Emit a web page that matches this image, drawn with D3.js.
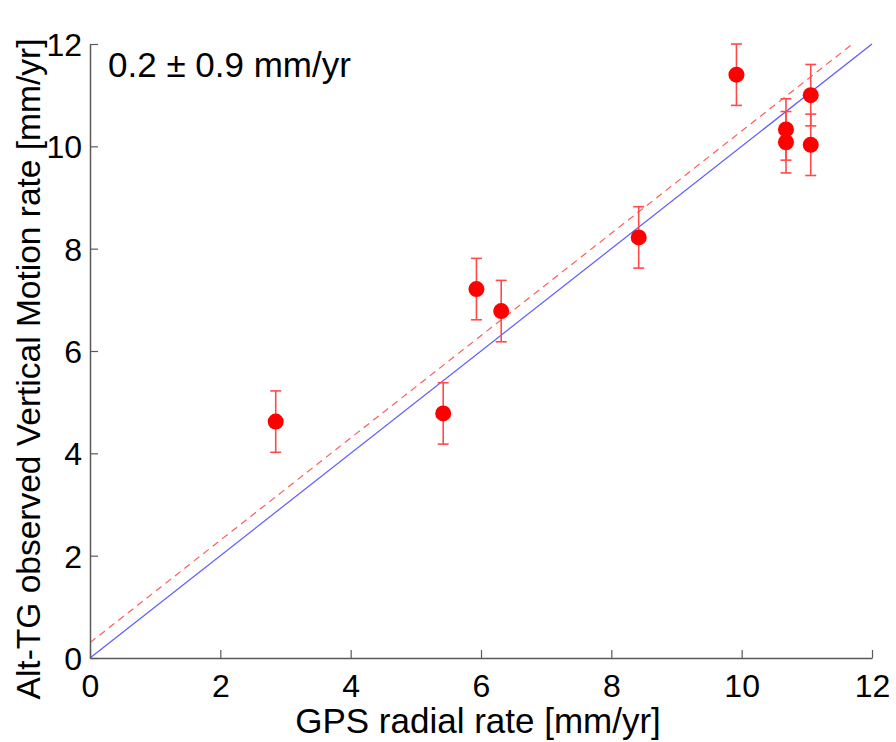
<!DOCTYPE html>
<html>
<head>
<meta charset="utf-8">
<script src="https://cdn.jsdelivr.net/npm/d3@7"></script>
<style>
html,body{margin:0;padding:0;background:#fff;}
svg{display:block;}
text{font-family:"Liberation Sans",Arial,sans-serif;fill:#000;}
</style>
</head>
<body>
<svg id="chart" width="896" height="742"></svg>
<script>
// Data
const gpsRate = [2.85, 5.42, 5.93, 6.31, 8.42, 9.92, 10.68, 10.68, 11.06, 11.06];
const altTgRate = [4.62, 4.78, 7.21, 6.78, 8.22, 11.40, 10.33, 10.08, 11.00, 10.03];
const rateErr = [0.6, 0.6, 0.6, 0.6, 0.6, 0.6, 0.6, 0.6, 0.6, 0.6];
const xTicks = [0, 2, 4, 6, 8, 10, 12];
const yTicks = [0, 2, 4, 6, 8, 10, 12];
const oneToOne = [[0, 0], [12, 12]];
const fitOffset = 0.3;
const fitLine = [[0, 0 + fitOffset], [12 - fitOffset, 12]];
const annotation = "0.2 \u00B1 0.9 mm/yr";

const svg = d3.select("#chart");
const margin = {left: 90, right: 24, top: 44, bottom: 84};
const W = 896, H = 742;
const x = d3.scaleLinear().domain([0, 12]).range([margin.left, 872]);
const y = d3.scaleLinear().domain([0, 12]).range([658, margin.top]);

const axisColor = "#5a5a5a";

// reference lines
const line = d3.line().x(d => x(d[0])).y(d => y(d[1]));
svg.append("path").datum(oneToOne).attr("d", line)
  .attr("fill", "none").attr("stroke", "#5b5bff").attr("stroke-width", 1.2);
svg.append("path").datum(fitLine).attr("d", line)
  .attr("fill", "none").attr("stroke", "#ff5c5c").attr("stroke-width", 1.2)
  .attr("stroke-dasharray", "7,5");

// error bars
const pts = gpsRate.map((g, i) => ({x: g, y: altTgRate[i], e: rateErr[i]}));
const eb = svg.append("g").attr("stroke", "#ff4a4a").attr("stroke-width", 1.6).attr("fill", "none");
const cap = 5.5;
pts.forEach(p => {
  eb.append("line").attr("x1", x(p.x)).attr("x2", x(p.x)).attr("y1", y(p.y - p.e)).attr("y2", y(p.y + p.e));
  eb.append("line").attr("x1", x(p.x) - cap).attr("x2", x(p.x) + cap).attr("y1", y(p.y + p.e)).attr("y2", y(p.y + p.e));
  eb.append("line").attr("x1", x(p.x) - cap).attr("x2", x(p.x) + cap).attr("y1", y(p.y - p.e)).attr("y2", y(p.y - p.e));
});

// markers
svg.append("g").selectAll("circle").data(pts).join("circle")
  .attr("cx", d => x(d.x)).attr("cy", d => y(d.y)).attr("r", 8)
  .attr("fill", "#ff0000");

// axes
const xAxis = d3.axisBottom(x).tickValues(xTicks).tickSize(-8).tickPadding(16).tickSizeOuter(0);
const yAxis = d3.axisLeft(y).tickValues(yTicks).tickSize(-8).tickPadding(8).tickSizeOuter(0);
const gx = svg.append("g").attr("transform", `translate(0,${y(0)})`).call(xAxis);
const gy = svg.append("g").attr("transform", `translate(${x(0)},0)`).call(yAxis);
[gx, gy].forEach(g => {
  g.select(".domain").attr("stroke", axisColor).attr("stroke-width", 1.5);
  g.selectAll(".tick line").attr("stroke", axisColor).attr("stroke-width", 1.2);
  g.selectAll(".tick text").attr("font-size", 32).attr("fill", "#000")
    .style("font-family", '"Liberation Sans", Arial, sans-serif');
});
gx.selectAll(".tick text").attr("dy", "0.71em");
gy.selectAll(".tick text").attr("dy", "0.36em");

// axis titles
svg.append("text").attr("x", 478).attr("y", 733).attr("text-anchor", "middle")
  .attr("font-size", 35).text("GPS radial rate [mm/yr]");
svg.append("text").attr("transform", "translate(40,369) rotate(-90)").attr("text-anchor", "middle")
  .attr("font-size", 33.5).text("Alt-TG observed Vertical Motion rate [mm/yr]");

// annotation
svg.append("text").attr("x", 108).attr("y", 77).attr("font-size", 35).text(annotation);
</script>
</body>
</html>
